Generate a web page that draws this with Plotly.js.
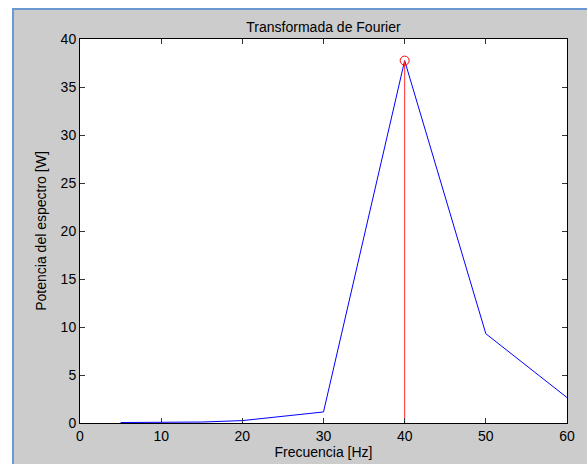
<!DOCTYPE html>
<html>
<head>
<meta charset="utf-8">
<script src="https://cdn.plot.ly/plotly-3.0.1.min.js"></script>
<style>
  html, body { margin: 0; padding: 0; background: #ffffff; width: 587px; height: 464px; overflow: hidden; }
  #frame {
    position: absolute; left: 12px; top: 8px; width: 575px; height: 456px;
    border-left: 2px solid #6c98d2; border-top: 2px solid #6c98d2;
    background: #cccccc; box-sizing: border-box;
  }
  #chart { position: absolute; left: 0; top: 0; width: 573px; height: 454px; }
</style>
</head>
<body>
<div id="frame"><div id="chart"></div></div>
<script>
// Spectrum samples: frequency (Hz) and power (W)
const freq = [5, 10, 15, 20, 30, 40, 50, 60];
const power = [0.05, 0.05, 0.1, 0.25, 1.15, 37.75, 9.3, 2.65];

// Dominant component shown as a stem
const peakFreq = [40];
const peakPower = [37.75];

const xTicks = [0, 10, 20, 30, 40, 50, 60];
const yTicks = [0, 5, 10, 15, 20, 25, 30, 35, 40];

const font = "Liberation Sans, Arial, Helvetica, sans-serif";

const traces = [
  {
    x: freq, y: power, type: "scatter", mode: "lines",
    line: { color: "#0000ff", width: 1 }, hoverinfo: "skip", cliponaxis: false
  },
  {
    x: [peakFreq[0], peakFreq[0]], y: [0, peakPower[0]],
    type: "scatter", mode: "lines",
    line: { color: "#ff3030", width: 1 }, hoverinfo: "skip"
  },
  {
    x: peakFreq, y: peakPower, type: "scatter", mode: "markers",
    marker: { symbol: "circle-open", color: "#ff0000", size: 9, line: { width: 1, color: "#ff0000" } },
    hoverinfo: "skip"
  }
];

const axisCommon = {
  showgrid: false, zeroline: false,
  showline: true, linecolor: "#000000", linewidth: 1, mirror: "ticks",
  ticks: "inside", ticklen: 5, tickwidth: 1, tickcolor: "#333333",
  tickfont: { family: font, size: 14, color: "#000000" }
};

const layout = {
  width: 573, height: 454,
  margin: { l: 66, r: 20, t: 29, b: 41 },
  paper_bgcolor: "#cccccc", plot_bgcolor: "#ffffff",
  showlegend: false,
  title: {
    text: "Transformada de Fourier",
    font: { family: font, size: 14, color: "#000000" },
    x: 0.5, xref: "paper", y: 1, yref: "paper", yanchor: "bottom", pad: { b: 7 }
  },
  xaxis: Object.assign({}, axisCommon, {
    range: [0, 60], tickvals: xTicks, ticktext: xTicks.map(String),
    title: { text: "Frecuencia [Hz]", font: { family: font, size: 14, color: "#000000" }, standoff: 2 }
  }),
  yaxis: Object.assign({}, axisCommon, {
    range: [0, 40], tickvals: yTicks, ticktext: yTicks.map(String),
    title: { text: "Potencia del espectro [W]", font: { family: font, size: 14, color: "#000000" }, standoff: 10 }
  })
};

Plotly.newPlot("chart", traces, layout, { staticPlot: true, displayModeBar: false });
</script>
</body>
</html>
